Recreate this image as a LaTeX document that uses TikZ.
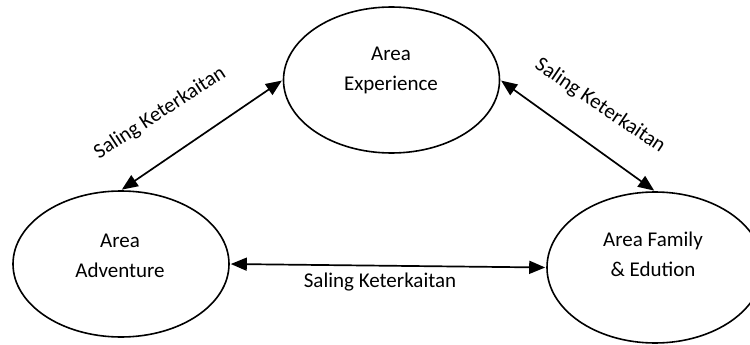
\documentclass[tikz,border=0pt]{standalone}
\usepackage{fontspec}
\setmainfont{Carlito}
\usetikzlibrary{shapes.geometric,arrows.meta}
\begin{document}
\begin{tikzpicture}[x=1pt,y=-1pt,
  area/.style={ellipse,draw=black,line width=1.6pt,minimum width=216pt,minimum height=146pt,inner sep=0pt},
  txt/.style={font=\fontsize{21}{30}\selectfont,align=center,inner sep=0pt},
  link/.style={line width=1.7pt,{Triangle[length=16pt,width=13pt]}-{Triangle[length=16pt,width=13pt]},shorten <=1pt,shorten >=1pt},
  lbl/.style={font=\fontsize{21}{25}\selectfont,inner sep=0pt}]
\useasboundingbox (0,0) rectangle (750,345);
\clip (0,0) rectangle (750,345);
\node[area] (exp) at (391.5,80) {};
\node[area] (adv) at (121,264) {};
\node[area,minimum height=151pt] (fam) at (655,267.5) {};
\node[txt] (texp) at (391,70) {Area\\Experience};
\node[txt] (tadv) at (120,256) {Area\\Adventure};
\node[txt] (tfam) at (653,254) {Area Family\\\& Edution};
\draw[link] (adv.north) -- (exp.west);
\draw[link] (exp.east) -- (fam.north);
\draw[link] (adv.east) -- (fam.west);
\node[lbl,rotate=33] (l1) at (160,113) {Saling Keterkaitan};
\node[lbl,rotate=-34] (l2) at (600,106) {Saling Keterkaitan};
\node[lbl] (l3) at (380,282) {Saling Keterkaitan};
\end{tikzpicture}
\end{document}
